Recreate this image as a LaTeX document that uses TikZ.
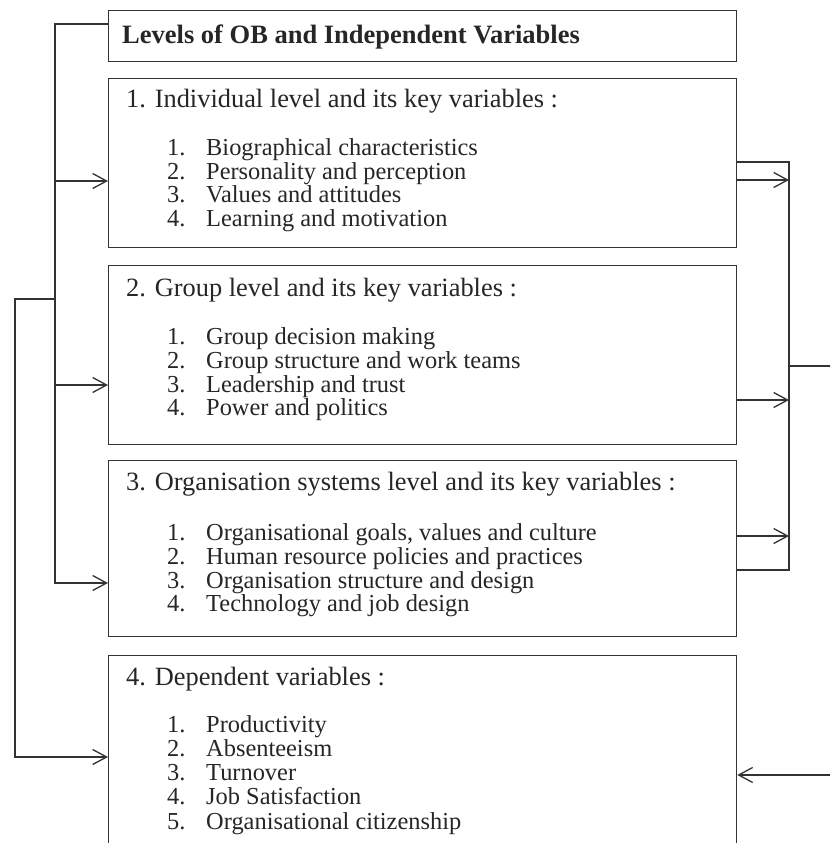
\documentclass[tikz,border=0pt]{standalone}
\usepackage{fontspec}
\setmainfont{Liberation Serif}
\usetikzlibrary{arrows.meta}
\newcommand\itnum[1]{\makebox[39pt][l]{#1}}
\begin{document}
\begin{tikzpicture}[x=1pt,y=-1pt,
  ln/.style={line width=1.3pt, draw=black!80},
  box/.style={ln, rectangle, inner sep=0pt, anchor=north west, minimum width=628pt},
  arr/.style={ln, -{Straight Barb[length=14pt,width=15pt,line width=1.3pt]}},
  ttl/.style={anchor=base west, inner sep=0pt, font=\bfseries\fontsize{26.5}{28}\selectfont, text=black!85},
  hdr/.style={anchor=base west, inner sep=0pt, font=\fontsize{26.4}{28}\selectfont, text=black!85},
  itm/.style={anchor=base west, inner sep=0pt, font=\fontsize{24.4}{26}\selectfont, text=black!85},
]
\clip (0,0) rectangle (830,843);
\fill[white] (0,0) rectangle (830,843);

% boxes
\node[box, minimum height=51pt]  (t)  at (108,10)  {};
\node[box, minimum height=169pt] (b1) at (108,78)  {};
\node[box, minimum height=179pt] (b2) at (108,265) {};
\node[box, minimum height=176pt] (b3) at (108,460) {};
\node[box, minimum height=220pt] (b4) at (108,655) {};

% texts
\node[ttl] (tt) at (122,44) {Levels of OB and Independent Variables};

\node[hdr] (h1) at (126,107) {1. Individual level and its key variables :};
\node[itm] (i11) at (167,155) {\itnum{1.}Biographical characteristics};
\node[itm] (i12) at (167,179) {\itnum{2.}Personality and perception};
\node[itm] (i13) at (167,202) {\itnum{3.}Values and attitudes};
\node[itm] (i14) at (167,226) {\itnum{4.}Learning and motivation};

\node[hdr] (h2) at (126,296) {2. Group level and its key variables :};
\node[itm] (i21) at (167,344) {\itnum{1.}Group decision making};
\node[itm] (i22) at (167,368) {\itnum{2.}Group structure and work teams};
\node[itm] (i23) at (167,392) {\itnum{3.}Leadership and trust};
\node[itm] (i24) at (167,415) {\itnum{4.}Power and politics};

\node[hdr] (h3) at (126,490) {3. Organisation systems level and its key variables :};
\node[itm] (i31) at (167,540) {\itnum{1.}Organisational goals, values and culture};
\node[itm] (i32) at (167,564) {\itnum{2.}Human resource policies and practices};
\node[itm] (i33) at (167,588) {\itnum{3.}Organisation structure and design};
\node[itm] (i34) at (167,611) {\itnum{4.}Technology and job design};

\node[hdr] (h4) at (126,685) {4. Dependent variables :};
\node[itm] (i41) at (167,732) {\itnum{1.}Productivity};
\node[itm] (i42) at (167,756) {\itnum{2.}Absenteeism};
\node[itm] (i43) at (167,780) {\itnum{3.}Turnover};
\node[itm] (i44) at (167,804) {\itnum{4.}Job Satisfaction};
\node[itm] (i45) at (167,829) {\itnum{5.}Organisational citizenship};

% left bus
\coordinate (ltop) at (55,24);
\coordinate (lbot) at (55,583);
\coordinate (la1) at (55,181);
\coordinate (la2) at (55,385);
\coordinate (lj) at (55,299);
\coordinate (l2top) at (15,299);
\coordinate (l2bot) at (15,757);
\draw[arr] (t.west |- ltop) -- (ltop) -- (lbot) -- (lbot -| b3.west);
\draw[arr] (la1) -- (la1 -| b1.west);
\draw[arr] (la2) -- (la2 -| b2.west);
\draw[arr] (lj) -- (l2top) -- (l2bot) -- (l2bot -| b4.west);

% right bus
\coordinate (r1) at (789,162);
\coordinate (r2) at (789,570);
\coordinate (ra1) at (789,180);
\coordinate (ra2) at (789,400);
\coordinate (ra3) at (789,536);
\coordinate (rj) at (789,366);
\coordinate (rout) at (840,366);
\coordinate (rin) at (840,775);
\draw[ln] (b1.east |- r1) -- (r1) -- (r2) -- (b3.east |- r2);
\draw[arr] (b1.east |- ra1) -- (ra1);
\draw[arr] (b2.east |- ra2) -- (ra2);
\draw[arr] (b3.east |- ra3) -- (ra3);
\draw[ln] (rj) -- (rout);
\draw[arr] (rin) -- (rin -| b4.east);
\end{tikzpicture}
\end{document}
